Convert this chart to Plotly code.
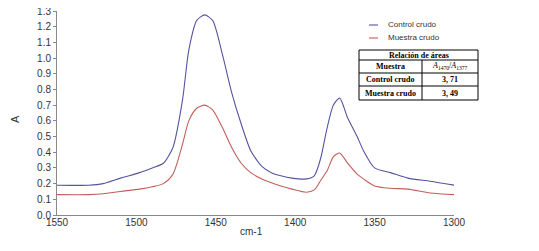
import plotly.graph_objects as go

wavenumber = [1550, 1530, 1521, 1510, 1498, 1490, 1483, 1477, 1471, 1467, 1462, 1457, 1452, 1446, 1440,
              1434, 1428, 1421, 1415, 1409, 1402, 1393, 1388, 1384, 1380, 1376, 1372, 1367, 1361, 1357,
              1350, 1340, 1329, 1315, 1300]
control_crudo = [0.19, 0.19, 0.20, 0.235, 0.27, 0.30, 0.33, 0.43, 0.73, 1.05, 1.24, 1.275, 1.24, 1.03, 0.78,
                 0.58, 0.41, 0.31, 0.27, 0.25, 0.235, 0.23, 0.25, 0.36, 0.55, 0.70, 0.745, 0.62, 0.50, 0.41,
                 0.30, 0.27, 0.235, 0.215, 0.19]
muestra_crudo = [0.13, 0.13, 0.135, 0.15, 0.165, 0.18, 0.20, 0.26, 0.45, 0.60, 0.68, 0.70, 0.67, 0.56, 0.43,
                 0.33, 0.27, 0.23, 0.205, 0.185, 0.165, 0.145, 0.16, 0.22, 0.28, 0.37, 0.395, 0.33, 0.26, 0.23,
                 0.185, 0.17, 0.165, 0.14, 0.13]

series_names = ["Control crudo", "Muestra crudo"]
series_colors = ["#5555a0", "#c25f5b"]

table_title = "Relación de áreas"
table_header = ["Muestra", "<i>A</i><sub>1470</sub>/<i>A</i><sub>1377</sub>"]
table_rows = [["Control crudo", "3, 71"], ["Muestra crudo", "3, 49"]]

fig = go.Figure()
for name, ys_, col in zip(series_names, [control_crudo, muestra_crudo], series_colors):
    fig.add_trace(go.Scatter(x=wavenumber, y=ys_, mode="lines", name=name, showlegend=False,
                             line=dict(color=col, width=1.1, shape="spline", smoothing=0.7)))

W, H = 539, 251
OFF = 7  # page offset observed in the rendering
L, T, R, B = 56, 10, 453, 214  # desired plot area in page pixels
pw, ph = R - L, B - T
ml, mt = L - OFF, T - OFF
mr = W - ml - pw
mb = H - mt - ph

def px(x):
    return (x - L) / pw

def py(y):
    return 1 - (y - T) / ph

shapes = []
ann = []
# manual legend
for i, (name, col) in enumerate(zip(series_names, series_colors)):
    yy = 24 + i * 13
    shapes.append(dict(type="line", xref="paper", yref="paper", x0=px(368), x1=px(377), y0=py(yy), y1=py(yy),
                       line=dict(color=col, width=1.1)))
    ann.append(dict(x=px(385), y=py(yy), text=name, xanchor="left", yanchor="middle",
                    font=dict(family="Liberation Sans, Arial, sans-serif", size=8, color="#333333")))

# table geometry (page pixels)
xl, xm, xr = 358, 421, 477
ys = [49, 59, 72, 85, 99]
shapes.append(dict(type="rect", xref="paper", yref="paper", x0=px(xl), x1=px(xr), y0=py(ys[-1]), y1=py(ys[0]),
                   line=dict(color="black", width=1)))
for y in ys[1:-1]:
    shapes.append(dict(type="line", xref="paper", yref="paper", x0=px(xl), x1=px(xr), y0=py(y), y1=py(y),
                       line=dict(color="black", width=1)))
shapes.append(dict(type="line", xref="paper", yref="paper", x0=px(xm), x1=px(xm), y0=py(ys[-1]), y1=py(ys[1]),
                   line=dict(color="black", width=1)))
tf = dict(family="Liberation Serif, Times New Roman, serif", size=8, color="black")
ann.append(dict(x=px((xl + xr) / 2), y=py((ys[0] + ys[1]) / 2), text="<b>" + table_title + "</b>",
                xanchor="center", yanchor="middle", font=tf))
cells = [table_header] + table_rows
for i, row in enumerate(cells):
    yc = py((ys[i + 1] + ys[i + 2]) / 2)
    t0 = "<b>" + row[0] + "</b>"
    t1 = row[1] if i == 0 else "<b>" + row[1] + "</b>"
    ann.append(dict(x=px((xl + xm) / 2), y=yc, text=t0, xanchor="center", yanchor="middle", font=tf))
    ann.append(dict(x=px((xm + xr) / 2), y=yc, text=t1, xanchor="center", yanchor="middle", font=tf))
# axis titles placed as annotations for precise position
ann.append(dict(x=px(250), y=py(230), text="cm-1", xanchor="center", yanchor="middle",
                font=dict(family="Liberation Sans, Arial, sans-serif", size=10, color="#333333")))
ann.append(dict(x=px(14), y=py(118), text="A", xanchor="center", yanchor="middle", textangle=-90,
                font=dict(family="Liberation Sans, Arial, sans-serif", size=11, color="#333333")))
for a in ann:
    a.update(xref="paper", yref="paper", showarrow=False)

fig.update_layout(
    width=W, height=H,
    margin=dict(l=ml, r=mr, t=mt, b=mb, autoexpand=False),
    paper_bgcolor="white", plot_bgcolor="white",
    font=dict(family="Liberation Sans, Arial, sans-serif", size=10, color="#333333"),
    showlegend=False,
    xaxis=dict(range=[1550, 1300], tickmode="array", tickvals=[1550, 1500, 1450, 1400, 1350, 1300],
               showgrid=False, zeroline=False, showline=True, linecolor="#888888", linewidth=1,
               ticks="", automargin=False, ticklabeloverflow="allow", ticklabelstandoff=-2,
               tickfont=dict(size=10, color="#333333")),
    yaxis=dict(range=[0, 1.3], tickmode="array", tickvals=[i / 10 for i in range(14)],
               tickformat=".1f", showgrid=False, zeroline=False, showline=True, linecolor="#888888",
               linewidth=1, ticks="outside", ticklen=3, tickcolor="#888888", automargin=False,
               ticklabeloverflow="allow", tickfont=dict(size=10, color="#333333")),
    shapes=shapes, annotations=ann,
)

fig.write_html("out.html")
